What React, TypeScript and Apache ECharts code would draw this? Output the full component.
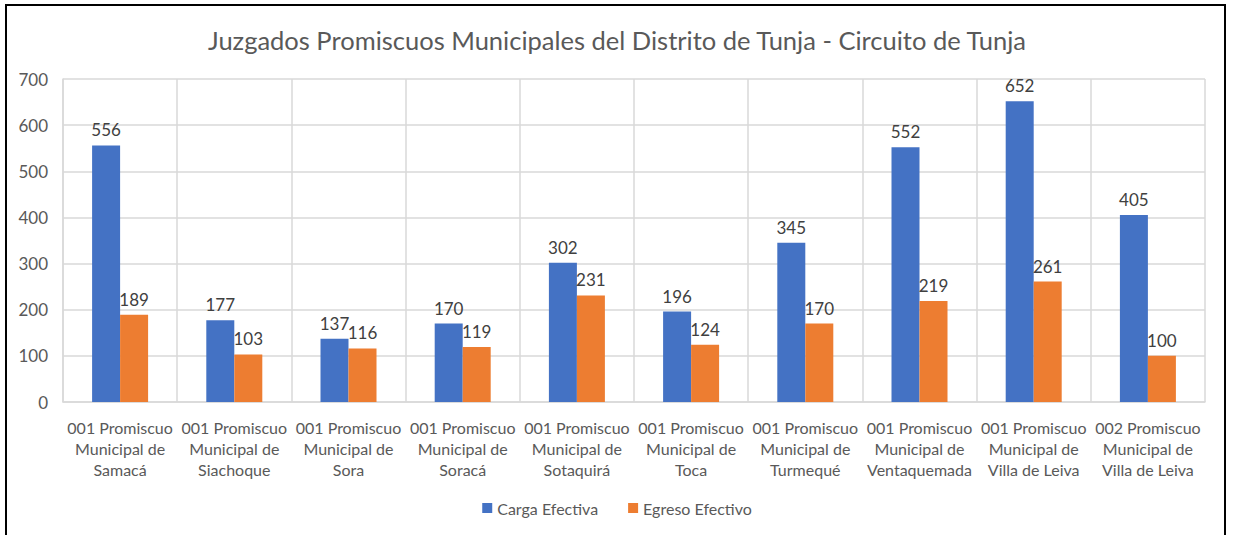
import React, { useEffect, useRef } from "react";
import * as echarts from "echarts";

const titleText = "Juzgados Promiscuos Municipales del Distrito de Tunja - Circuito de Tunja";
const categories = [
  "001 Promiscuo\nMunicipal de\nSamacá",
  "001 Promiscuo\nMunicipal de\nSiachoque",
  "001 Promiscuo\nMunicipal de\nSora",
  "001 Promiscuo\nMunicipal de\nSoracá",
  "001 Promiscuo\nMunicipal de\nSotaquirá",
  "001 Promiscuo\nMunicipal de\nToca",
  "001 Promiscuo\nMunicipal de\nTurmequé",
  "001 Promiscuo\nMunicipal de\nVentaquemada",
  "001 Promiscuo\nMunicipal de\nVilla de Leiva",
  "002 Promiscuo\nMunicipal de\nVilla de Leiva",
];
const cargaEfectiva = [556, 177, 137, 170, 302, 196, 345, 552, 652, 405];
const egresoEfectivo = [189, 103, 116, 119, 231, 124, 170, 219, 261, 100];
const seriesNames = ["Carga Efectiva", "Egreso Efectivo"];
const colors = ["#4472C4", "#ED7D31"];

const FONT = "Lato";

export default function App() {
  const ref = useRef<HTMLDivElement>(null);
  useEffect(() => {
    if (!ref.current) return;
    const chart = echarts.init(ref.current, null, { renderer: "svg" });
    const label = {
      show: true,
      position: "top",
      distance: 7,
      color: "#404040",
      fontFamily: FONT,
      fontSize: 17,
    };
    chart.setOption({
      animation: false,
      backgroundColor: "#ffffff",
      textStyle: { fontFamily: FONT },
      title: {
        text: titleText,
        left: "center",
        top: 22,
        textStyle: { color: "#595959", fontSize: 25.5, fontWeight: "normal", fontFamily: FONT },
      },
      graphic: [
        {
          type: "rect",
          shape: { x: 6, y: 5, width: 1219, height: 560 },
          style: { fill: "none", stroke: "#000000", lineWidth: 2 },
          silent: true,
        },
      ],
      legend: {
        bottom: 14,
        left: "center",
        itemWidth: 10,
        itemHeight: 10,
        itemGap: 30,
        icon: "rect",
        textStyle: { color: "#595959", fontSize: 16, fontFamily: FONT },
        data: seriesNames,
      },
      grid: { left: 63, right: 29, top: 79, bottom: 133, containLabel: false },
      xAxis: {
        type: "category",
        data: categories,
        axisLine: { show: true, lineStyle: { color: "#d9d9d9", width: 1.5 } },
        axisTick: { show: false },
        splitLine: { show: true, interval: 0, lineStyle: { color: "#d9d9d9", width: 1.5 } },
        axisLabel: {
          interval: 0,
          color: "#595959",
          fontSize: 16,
          lineHeight: 21,
          margin: 15,
          fontFamily: FONT,
        },
      },
      yAxis: {
        type: "value",
        min: 0,
        max: 700,
        interval: 100,
        axisLine: { show: true, lineStyle: { color: "#d9d9d9", width: 1.5 } },
        axisTick: { show: false },
        splitLine: { show: true, lineStyle: { color: "#d9d9d9", width: 1.5 } },
        axisLabel: { color: "#595959", fontSize: 17, margin: 15, fontFamily: FONT },
      },
      series: [
        {
          name: seriesNames[0],
          type: "bar",
          data: cargaEfectiva,
          barWidth: 28,
          barGap: "0%",
          itemStyle: { color: colors[0] },
          label,
        },
        {
          name: seriesNames[1],
          type: "bar",
          data: egresoEfectivo,
          barWidth: 28,
          barGap: "0%",
          itemStyle: { color: colors[1] },
          label,
        },
      ],
    });
    return () => chart.dispose();
  }, []);
  return (
    <div style={{ position: "fixed", left: 0, top: 0, width: 1234, height: 535 }}>
      <div ref={ref} style={{ width: 1234, height: 535 }} />
    </div>
  );
}
